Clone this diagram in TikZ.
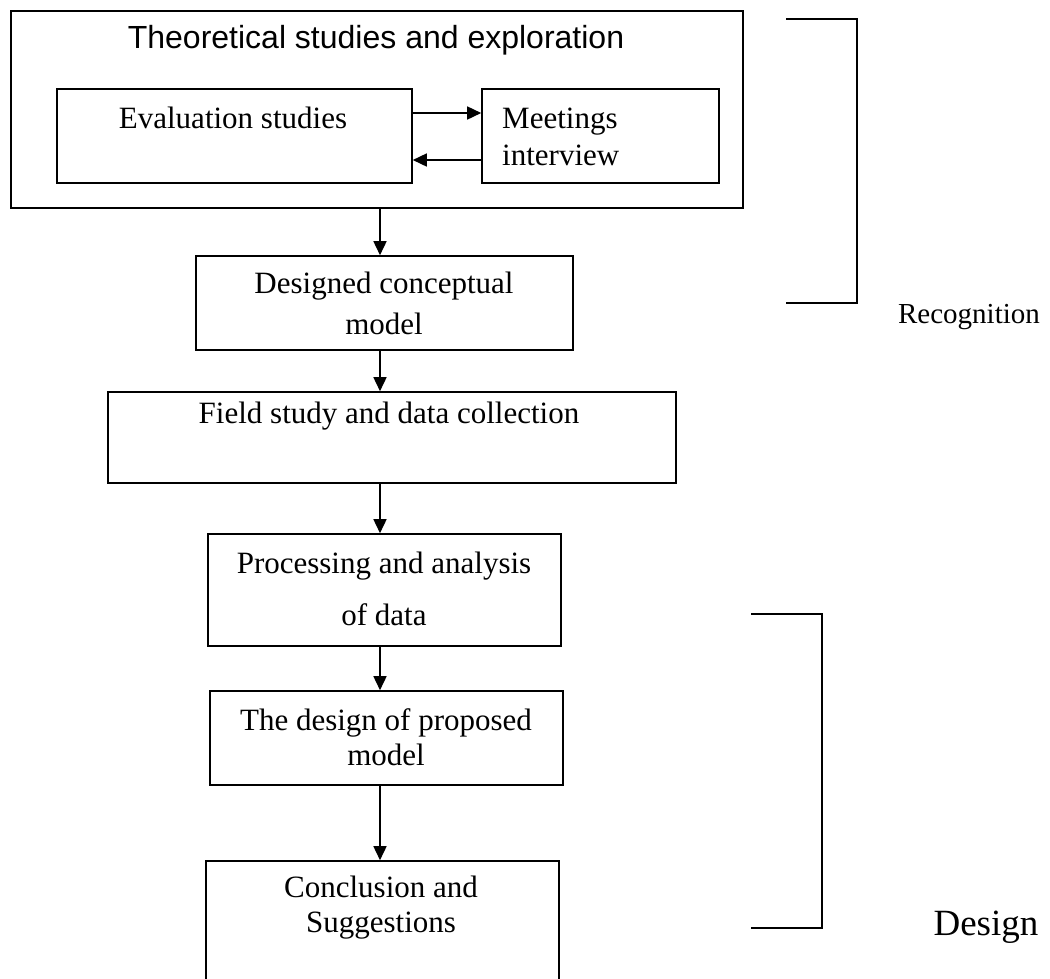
\documentclass[tikz,border=0pt]{standalone}
\usepackage{fontspec}
\setmainfont{Liberation Serif}
\newfontfamily\titlefont{Liberation Sans}
\usetikzlibrary{arrows.meta}
\tikzset{
  box/.style={draw, line width=1.6pt, inner sep=0pt},
  txt/.style={inner sep=0pt, align=center, font=\fontsize{31}{36}\selectfont},
  arr/.style={line width=1.6pt, -{Triangle[length=14pt,width=13pt]}},
  brk/.style={line width=1.6pt}
}
\begin{document}
\begin{tikzpicture}[x=1pt,y=-1pt]
\path[use as bounding box] (0,0) rectangle (1050,978);
\clip (0,0) rectangle (1050,978);
% boxes
\node[box, minimum width=732pt, minimum height=197pt] (outer) at (377,109.5) {};
\node[box, minimum width=355pt, minimum height=94pt] (ev) at (234.5,136) {};
\node[box, minimum width=237pt, minimum height=94pt] (mt) at (600.5,136) {};
\node[box, minimum width=377pt, minimum height=94pt] (b2) at (384.5,303) {};
\node[box, minimum width=568pt, minimum height=91pt] (b3) at (392,437.5) {};
\node[box, minimum width=353pt, minimum height=112pt] (b4) at (384.5,590) {};
\node[box, minimum width=353pt, minimum height=94pt] (b5) at (386.5,738) {};
\node[box, minimum width=353pt, minimum height=139pt] (b6) at (382.5,930.5) {};
% texts
\node[txt, font=\titlefont\fontsize{32}{37}\selectfont] (ttl) at (376,40) {Theoretical studies and exploration};
\node[txt] (tev) at (233,118) {Evaluation studies};
\node[txt, anchor=west, align=left, font=\fontsize{31}{37}\selectfont] (tmt) at (502,136.5) {Meetings\\interview};
\node[txt, font=\fontsize{31}{41}\selectfont] (t2) at (384,303.5) {Designed conceptual\\model};
\node[txt] (t3) at (389,416) {Field study and data collection};
\node[txt, font=\fontsize{31}{52}\selectfont] (t4) at (384,589) {Processing and analysis\\of data};
\node[txt, font=\fontsize{31}{35}\selectfont] (t5) at (386,737.5) {The design of proposed\\model};
\node[txt, font=\fontsize{31}{35}\selectfont] (t6) at (381,907.5) {Conclusion and\\Suggestions};
% arrows
\coordinate (ax) at (380,0);
\draw[arr] ([yshift=23pt]ev.east) -- ([yshift=23pt]mt.west);
\draw[arr] ([yshift=-24pt]mt.west) -- ([yshift=-24pt]ev.east);
\draw[arr] (outer.south -| ax) -- (b2.north -| ax);
\draw[arr] (b2.south -| ax) -- (b3.north -| ax);
\draw[arr] (b3.south -| ax) -- (b4.north -| ax);
\draw[arr] (b4.south -| ax) -- (b5.north -| ax);
\draw[arr] (b5.south -| ax) -- (b6.north -| ax);
% brackets
\draw[brk] (786,19) -- (857,19) -- (857,303) -- (786,303);
\node[txt, font=\fontsize{29}{34}\selectfont] (rec) at (969,317) {Recognition};
\draw[brk] (751,614) -- (822,614) -- (822,928) -- (751,928);
\node[txt, font=\fontsize{37}{42}\selectfont] (des) at (986,927) {Design};
\end{tikzpicture}
\end{document}
